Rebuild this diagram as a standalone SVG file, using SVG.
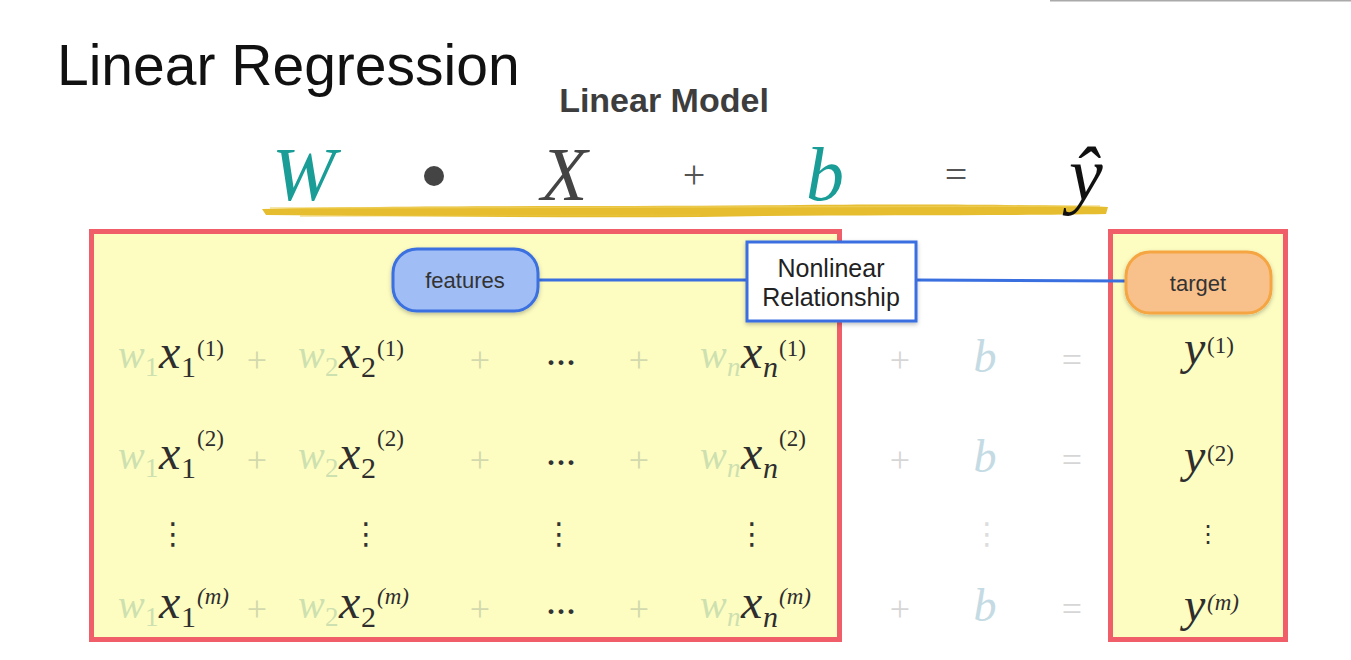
<svg xmlns="http://www.w3.org/2000/svg" width="1351" height="660" viewBox="0 0 1351 660">
<style>
.sans{font-family:"Liberation Sans",Arial,sans-serif}
.m{font-family:"Liberation Serif","Times New Roman",serif;font-style:italic}
.r{font-family:"Liberation Serif","Times New Roman",serif;font-style:normal}
.big{font-size:76px}
.x{font-size:48px;fill:#2e2e2e}
.w{font-size:40px;fill:#cde0b0}
.ws{font-size:27px;fill:#cde0b0}
.xs{font-size:30px;fill:#2e2e2e}
.sup{font-size:23px;fill:#2e2e2e}
.p{font-size:36px;fill:#d2d9ac;text-anchor:middle}
.pg{font-size:36px;fill:#d6d6d6;text-anchor:middle}
.bg{font-size:46px;fill:#c4dbe4;text-anchor:middle}
.dots{font-size:30px;font-weight:bold;fill:#333;text-anchor:middle}
.vd{font-family:"DejaVu Serif","DejaVu Sans",serif;font-size:30px;fill:#333;text-anchor:middle}
.box{fill:#fdfdc2;stroke:#ef5e69;stroke-width:5}
.conn{stroke:#3a6fe0;stroke-width:3;fill:none}
</style>
<defs>
<filter id="sh" x="-20%" y="-20%" width="140%" height="150%">
<feDropShadow dx="0" dy="2" stdDeviation="2" flood-color="#000" flood-opacity="0.25"/>
</filter>
</defs>
<rect width="1351" height="660" fill="#ffffff"/>
<line x1="1050" y1="0.5" x2="1351" y2="0.5" stroke="#aaaaaa" stroke-width="2"/>

<g id="title">
<text x="57" y="85" class="sans" font-size="57" fill="#111">Linear Regression</text>
<text x="664" y="112" class="sans" font-size="34" font-weight="bold" fill="#3d3d3d" text-anchor="middle">Linear Model</text>
</g>

<g id="equation">
<path d="M262,209 C400,205 600,207 800,205 C950,204 1050,205 1108,207 L1106,214 C1000,216 850,214 700,217 C550,218 400,216 266,215 Z" fill="#e6bd2e"/>
<path d="M270,208 L1100,206" stroke="#f0d260" stroke-width="1.5" fill="none" opacity="0.7"/>
<path d="M300,216 L700,215" stroke="#e9c440" stroke-width="1.5" fill="none" opacity="0.6"/>
<text x="272" y="200" class="m big" fill="#1a9c97">W</text>
<circle cx="434" cy="176" r="10" fill="#444"/>
<text x="541" y="200" class="m big" fill="#444">X</text>
<text x="694" y="188" class="r" font-size="40" fill="#555" text-anchor="middle">+</text>
<text x="806" y="200" class="m big" fill="#1a9c97">b</text>
<text x="956" y="188" class="r" font-size="40" fill="#555" text-anchor="middle">=</text>
<text x="1069" y="200" class="m big" fill="#111">ŷ</text>
</g>

<g id="features-box"><rect x="91.5" y="231.5" width="748" height="408" class="box"/></g>
<g id="target-box"><rect x="1110.5" y="231.5" width="175" height="408" class="box"/></g>

<g id="connectors">
<line x1="538" y1="280" x2="747" y2="280" class="conn"/>
<line x1="916" y1="280" x2="1126" y2="281" class="conn"/>
</g>

<g id="features">
<rect x="393" y="249" width="145" height="62" rx="24" fill="#a0bdf5" stroke="#3a6fe0" stroke-width="3" filter="url(#sh)"/>
<text x="465" y="288" class="sans" font-size="22" fill="#333" text-anchor="middle">features</text>
</g>
<g id="nonlinear">
<rect x="747" y="242" width="169" height="79" fill="#ffffff" stroke="#3a6ee0" stroke-width="3" filter="url(#sh)"/>
<text x="831" y="277" class="sans" font-size="25" fill="#222" text-anchor="middle">Nonlinear</text>
<text x="831" y="306" class="sans" font-size="25" fill="#222" text-anchor="middle">Relationship</text>
</g>
<g id="target">
<rect x="1126" y="252" width="145" height="61" rx="24" fill="#f8c18c" stroke="#f5a542" stroke-width="3" filter="url(#sh)"/>
<text x="1198" y="291" class="sans" font-size="22" fill="#333" text-anchor="middle">target</text>
</g>

<g id="row1">
<text x="118" y="368" class="m w">w</text><text x="145" y="376" class="r ws">1</text>
<text x="159" y="368" class="m x">x</text><text x="181" y="377" class="r xs">1</text><text x="197" y="356" class="r sup">(1)</text>
<text x="257" y="372" class="r p">+</text>
<text x="298" y="368" class="m w">w</text><text x="325" y="376" class="r ws">2</text>
<text x="339" y="368" class="m x">x</text><text x="361" y="377" class="r xs">2</text><text x="377" y="356" class="r sup">(1)</text>
<text x="480" y="372" class="r p">+</text>
<text x="561" y="372" class="r dots">···</text>
<text x="639" y="372" class="r p">+</text>
<text x="700" y="368" class="m w">w</text><text x="727" y="376" class="m ws">n</text>
<text x="741" y="368" class="m x">x</text><text x="763" y="377" class="m xs">n</text><text x="779" y="356" class="r sup">(1)</text>
<text x="900" y="372" class="r pg">+</text>
<text x="985" y="372" class="m bg">b</text>
<text x="1072" y="372" class="r pg">=</text>
<text x="1184" y="364" class="m x">y</text><text x="1207" y="353" class="r sup">(1)</text>
</g>

<g id="row2">
<text x="118" y="469" class="m w">w</text><text x="145" y="477" class="r ws">1</text>
<text x="159" y="469" class="m x">x</text><text x="181" y="478" class="r xs">1</text><text x="197" y="446" class="r sup">(2)</text>
<text x="257" y="472" class="r p">+</text>
<text x="298" y="469" class="m w">w</text><text x="325" y="477" class="r ws">2</text>
<text x="339" y="469" class="m x">x</text><text x="361" y="478" class="r xs">2</text><text x="377" y="446" class="r sup">(2)</text>
<text x="480" y="472" class="r p">+</text>
<text x="561" y="472" class="r dots">···</text>
<text x="639" y="472" class="r p">+</text>
<text x="700" y="469" class="m w">w</text><text x="727" y="477" class="m ws">n</text>
<text x="741" y="469" class="m x">x</text><text x="763" y="478" class="m xs">n</text><text x="779" y="446" class="r sup">(2)</text>
<text x="900" y="472" class="r pg">+</text>
<text x="985" y="472" class="m bg">b</text>
<text x="1072" y="472" class="r pg">=</text>
<text x="1184" y="472" class="m x">y</text><text x="1207" y="461" class="r sup">(2)</text>
</g>

<g id="ellipsis-row">
<text x="173" y="544" class="vd">⋮</text>
<text x="366" y="544" class="vd">⋮</text>
<text x="559" y="544" class="vd">⋮</text>
<text x="752" y="544" class="vd">⋮</text>
<text x="987" y="544" class="vd" style="fill:#dddddd">⋮</text>
<text x="1208" y="542" class="vd" style="font-size:24px">⋮</text>
</g>

<g id="rowm">
<text x="118" y="618" class="m w">w</text><text x="145" y="626" class="r ws">1</text>
<text x="159" y="618" class="m x">x</text><text x="181" y="627" class="r xs">1</text><text x="197" y="604" class="m sup">(m)</text>
<text x="257" y="621" class="r p">+</text>
<text x="298" y="618" class="m w">w</text><text x="325" y="626" class="r ws">2</text>
<text x="339" y="618" class="m x">x</text><text x="361" y="627" class="r xs">2</text><text x="377" y="604" class="m sup">(m)</text>
<text x="480" y="621" class="r p">+</text>
<text x="561" y="621" class="r dots">···</text>
<text x="639" y="621" class="r p">+</text>
<text x="700" y="618" class="m w">w</text><text x="727" y="626" class="m ws">n</text>
<text x="741" y="618" class="m x">x</text><text x="763" y="627" class="m xs">n</text><text x="779" y="604" class="m sup">(m)</text>
<text x="900" y="621" class="r pg">+</text>
<text x="985" y="621" class="m bg">b</text>
<text x="1072" y="621" class="r pg">=</text>
<text x="1184" y="621" class="m x">y</text><text x="1207" y="610" class="m sup">(m)</text>
</g>
</svg>
